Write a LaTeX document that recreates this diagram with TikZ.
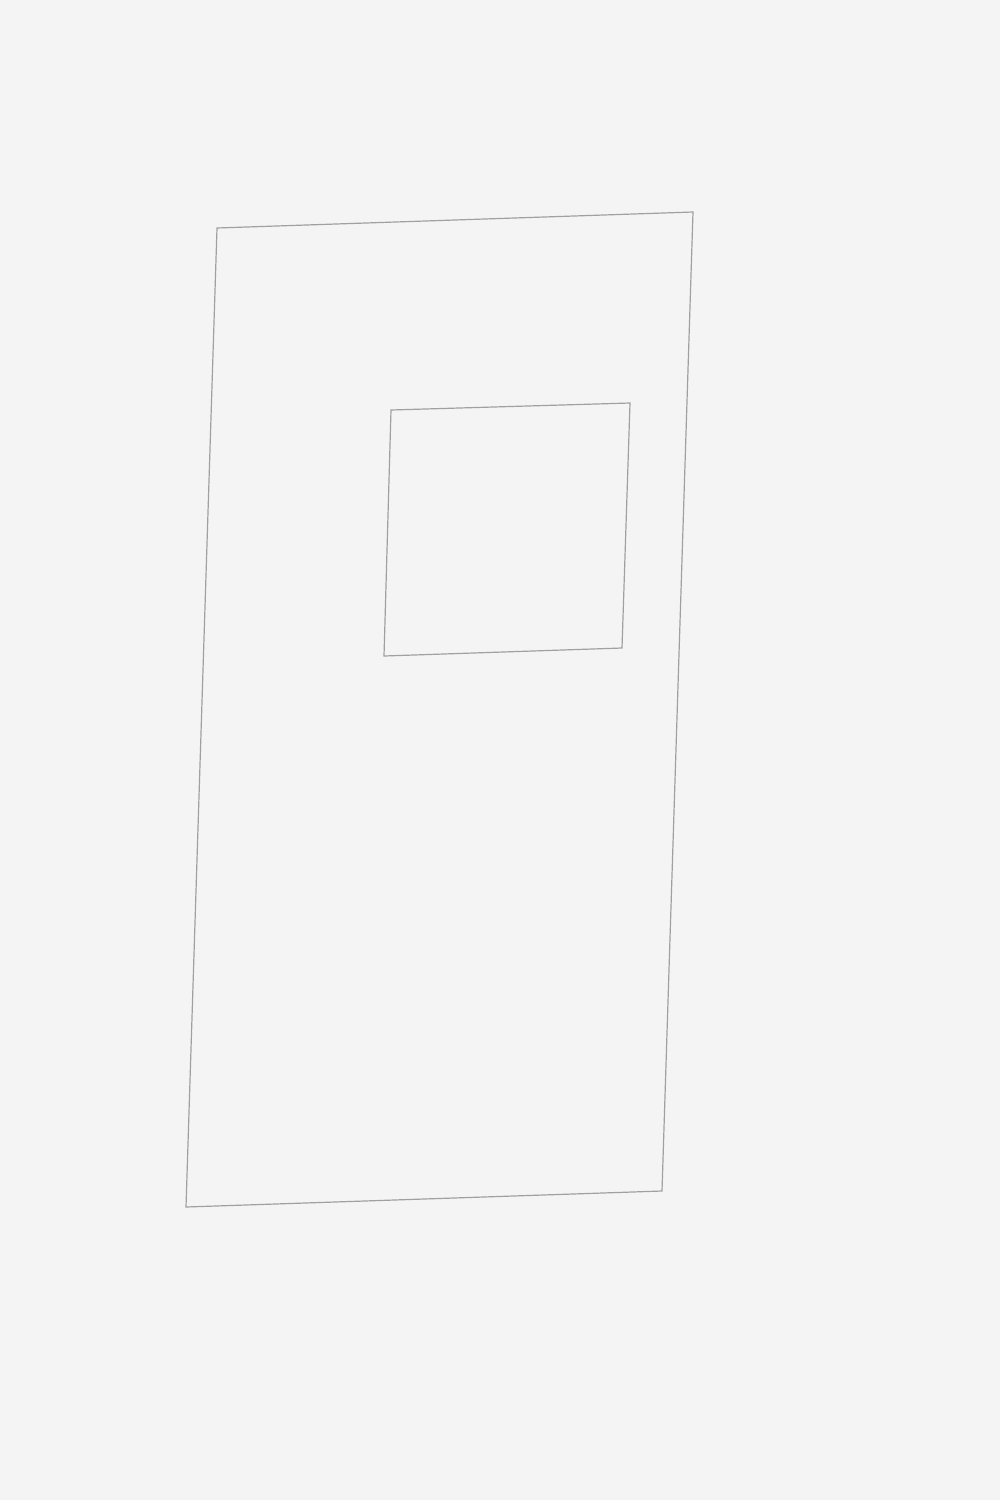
\documentclass[tikz,border=0pt]{standalone}
\begin{document}
\begin{tikzpicture}[x=0.5pt,y=-0.5pt,
  outline/.style={draw={rgb,255:red,160;green,160;blue,160},line width=0.6pt,line join=miter}]
\definecolor{bg}{RGB}{244,244,244}
\fill[bg] (0,0) rectangle (1000,1500);
\useasboundingbox (0,0) rectangle (1000,1500);
\coordinate (o1) at (217,228);
\coordinate (o2) at (693,212);
\coordinate (o3) at (662,1191);
\coordinate (o4) at (186,1207);
\coordinate (i1) at (391,410);
\coordinate (i2) at (630,403);
\coordinate (i3) at (622,648);
\coordinate (i4) at (384,656);
\draw[outline] (o1) -- (o2) -- (o3) -- (o4) -- cycle;
\draw[outline] (i1) -- (i2) -- (i3) -- (i4) -- cycle;
\end{tikzpicture}
\end{document}
